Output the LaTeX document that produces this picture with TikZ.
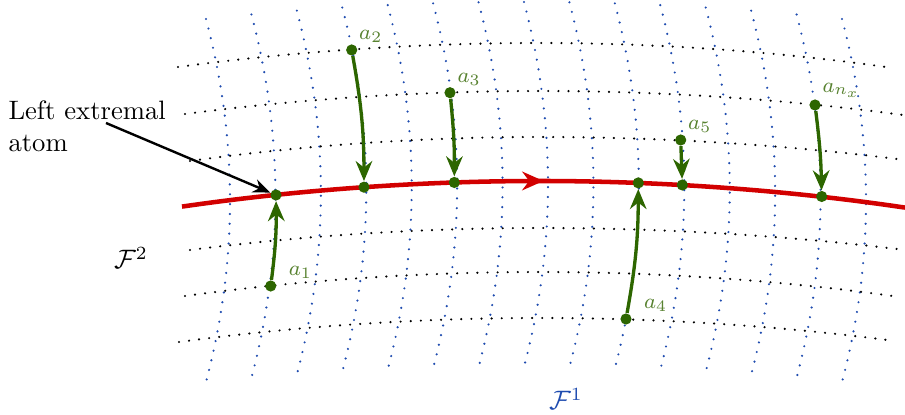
\documentclass[tikz,border=0pt]{standalone}
\usetikzlibrary{arrows.meta,decorations.markings}
\definecolor{atomgreen}{RGB}{45,102,0}
\definecolor{labgreen}{RGB}{88,130,48}
\definecolor{foliblue}{RGB}{30,75,175}
\definecolor{leafred}{RGB}{210,0,0}

\begin{document}
\begin{tikzpicture}[x=0.0132cm, y=-0.0132cm,
        hleaf/.style={black, line width=0.9pt, line cap=round, dash pattern=on 0pt off 3.8pt},
        vleaf/.style={foliblue, line width=0.9pt, line cap=round, dash pattern=on 0pt off 3.7pt},
        leaf/.style={leafred, line width=1.7pt},
        atom/.style={circle, fill=atomgreen, inner sep=0pt, minimum size=4.2pt},
        lab/.style={labgreen, font=\footnotesize, inner sep=1pt},
        flow/.style={atomgreen, line width=1.25pt, -{Stealth[length=7.5pt,width=6.2pt]}},
        pointer/.style={black, line width=0.9pt, -{Stealth[length=6.5pt,width=5.2pt]}}]
        \useasboundingbox (0,0) rectangle (905,415);
        % ── hojas de F^1 (verticales) ─────────────────────────
        \foreach \i in {0,...,14}{
            \pgfmathsetmacro{\xa}{206+45.43*\i}
            \pgfmathsetmacro{\dd}{((\xa-524)/318)^2}
            \pgfmathsetmacro{\yt}{2+17*\dd}
            \pgfmathsetmacro{\yb}{367+15*\dd}
            \draw[vleaf] plot[domain=0:1, samples=40, variable=\t] ({\xa+96*\t*(1-\t)},{\yt+(\yb-\yt)*\t});
        }
        % ── hojas de F^2 (horizontales) ───────────────────────
        \foreach \xl/\yl/\yp/\xr/\yr in {178/67/43/893/68, 185/114/91/903/115, 190/161/137/897/159,
                                         190/250/228/897/249, 185/296/272/900/297, 179/342/318/895/341}
            \draw[hleaf] (\xl,\yl) parabola bend (540,\yp) (\xr,\yr);
        % ── la hoja marcada ───────────────────────────────────
        \draw[leaf, postaction={decorate},
              decoration={markings, mark=at position 0.5 with {\arrow{Stealth[length=8pt,width=7pt]}}}]
            (182,206.6) parabola bend (540,181) (905,207.6);
        % ── atomos ────────────────────────────────────────────
        \node[atom] (p1) at (276,195) {};
        \node[atom] (p2) at (364,187.2) {};
        \node[atom] (p3) at (454.3,182.5) {};
        \node[atom] (p4) at (638.3,182.9) {};
        \node[atom] (p5) at (682.3,185) {};
        \node[atom] (p6) at (821.7,196.5) {};
        \node[atom, label={[lab, xshift=4pt]above right:$a_1$}] (a1) at (270.7,286) {};
        \node[atom, label={[lab]above right:$a_2$}] (a2) at (351.7,50) {};
        \node[atom, label={[lab]above right:$a_3$}] (a3) at (450,92.7) {};
        \node[atom, label={[lab, xshift=4pt]above right:$a_4$}] (a4) at (626,319) {};
        \node[atom, label={[lab]above right:$a_5$}] (a5) at (680.7,140) {};
        \node[atom, label={[lab]above right:$a_{n_x}$}] (a6) at (815,105) {};
        \draw[flow] (a1) to[bend right=4] (p1);
        \draw[flow] (a2) to[bend left=5] (p2);
        \draw[flow] (a3) to[bend left=3] (p3);
        \draw[flow] (a4) to[bend right=5] (p4);
        \draw[flow] (a5) -- (p5);
        \draw[flow] (a6) to[bend left=3] (p6);
        % ── textos ────────────────────────────────────────────
        \node[anchor=north west, align=left, inner sep=0pt] (extr) at (8,100) {Left extremal\\atom};
        \coordinate (extrtail) at (106,123);
        \draw[pointer] (extrtail) -- (p1);
        \node (F2) at (131,258) {$\mathcal{F}^2$};
        \node[text=foliblue] (F1) at (566,399) {$\mathcal{F}^1$};
    \end{tikzpicture}
\end{document}
